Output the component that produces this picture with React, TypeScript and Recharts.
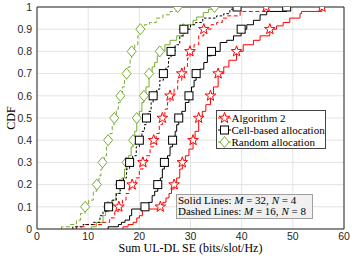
import React from 'react';
import {
  ComposedChart,
  Line,
  Scatter,
  XAxis,
  YAxis,
  CartesianGrid,
  ReferenceLine,
  Legend,
} from 'recharts';

type Pt = [number, number];

const xTicks = [0, 10, 20, 30, 40, 50, 60];
const yTicks = [0, 0.1, 0.2, 0.3, 0.4, 0.5, 0.6, 0.7, 0.8, 0.9, 1];
const markerLevels = [0.1, 0.2, 0.3, 0.4, 0.5, 0.6, 0.7, 0.8, 0.9, 1];

// Algorithm 2, solid (M = 32, N = 4)
const a2Solid: Pt[] = [
  [16.8, 0], [16.8, 0.01], [17.8, 0.02], [18.8, 0.03], [19.5, 0.05], [20.0, 0.06], [20.6, 0.09], [24.1, 0.1],
  [24.6, 0.12], [25.2, 0.14], [25.8, 0.16], [26.3, 0.18], [26.8, 0.2],
  [27.3, 0.23], [27.9, 0.27], [28.4, 0.3],
  [29.0, 0.33], [29.7, 0.36], [30.5, 0.4],
  [30.9, 0.44], [31.6, 0.5],
  [32.3, 0.53], [33.0, 0.56], [33.9, 0.6],
  [34.5, 0.64], [35.4, 0.7],
  [36.5, 0.73], [37.5, 0.76], [39.0, 0.8],
  [40.3, 0.83], [42.3, 0.85], [43.6, 0.87], [45.5, 0.9],
  [46.8, 0.915], [48.1, 0.93], [49.4, 0.95], [51.4, 0.97], [51.7, 0.98], [55.7, 1],
];
const a2SolidMarks = [24.1, 26.8, 28.4, 30.5, 31.6, 33.9, 35.4, 39.0, 45.5, 55.7];

// Cell-based allocation, solid
const cellSolid: Pt[] = [
  [13.9, 0], [13.9, 0.01], [15.9, 0.02], [16.5, 0.03], [17.2, 0.04], [18.1, 0.06], [18.5, 0.09], [21.1, 0.1],
  [21.8, 0.12], [22.5, 0.15], [23.0, 0.17], [23.6, 0.2],
  [24.1, 0.23], [24.5, 0.27], [24.9, 0.3],
  [25.5, 0.33], [26.0, 0.37], [26.5, 0.4],
  [27.0, 0.44], [27.3, 0.47], [27.7, 0.5],
  [28.3, 0.53], [29.0, 0.57], [29.7, 0.6],
  [30.2, 0.64], [30.7, 0.67], [31.1, 0.7],
  [31.8, 0.72], [32.6, 0.75], [33.3, 0.78], [34.1, 0.8],
  [35.8, 0.84], [37.1, 0.85], [38.4, 0.87], [39.9, 0.9],
  [41.0, 0.92], [42.3, 0.94], [43.6, 0.965], [44.9, 0.98], [48.8, 1],
];
const cellSolidMarks = [21.1, 23.6, 24.9, 26.5, 27.7, 29.7, 31.1, 34.1, 39.9, 48.8];

// Random allocation, solid
const randSolid: Pt[] = [
  [10.6, 0], [10.6, 0.01], [11.6, 0.03], [12.9, 0.06], [13.4, 0.08], [13.9, 0.1],
  [14.6, 0.13], [15.4, 0.16], [16.2, 0.2],
  [16.6, 0.23], [17.1, 0.27], [17.5, 0.3],
  [17.9, 0.33], [18.4, 0.37], [18.8, 0.4],
  [19.1, 0.44], [19.5, 0.5],
  [20.0, 0.53], [20.5, 0.57], [20.9, 0.6],
  [21.3, 0.64], [21.9, 0.7],
  [22.5, 0.73], [23.0, 0.75], [23.5, 0.78], [24.0, 0.8],
  [25.0, 0.83], [26.0, 0.85], [27.3, 0.87], [28.6, 0.9],
  [29.5, 0.92], [30.5, 0.94], [31.2, 0.955], [32.5, 0.975], [33.5, 0.99], [34.7, 1],
];
const randSolidMarks = [13.9, 16.2, 17.5, 18.8, 19.5, 20.9, 21.9, 24.0, 28.6, 34.7];

// Algorithm 2, dashed (M = 16, N = 8)
const a2Dashed: Pt[] = [
  [7.7, 0], [7.7, 0.01], [9.3, 0.02], [12.9, 0.03], [14.2, 0.05], [15.2, 0.08], [16.0, 0.1],
  [16.7, 0.13], [17.4, 0.16], [18.0, 0.18], [18.6, 0.2],
  [19.3, 0.23], [20.0, 0.27], [20.7, 0.3],
  [21.4, 0.33], [22.1, 0.37], [22.8, 0.4],
  [23.3, 0.43], [23.9, 0.47], [24.5, 0.5],
  [25.0, 0.54], [25.5, 0.57], [26.0, 0.6],
  [26.8, 0.63], [27.5, 0.67], [28.3, 0.7],
  [28.8, 0.73], [29.4, 0.77], [29.9, 0.8],
  [30.7, 0.83], [31.6, 0.87], [32.6, 0.9],
  [34.0, 0.92], [35.1, 0.93], [36.2, 0.95], [37.1, 0.96], [39.7, 0.98], [44.8, 1],
];
const a2DashedMarks = [16.0, 18.6, 20.7, 22.8, 24.5, 26.0, 28.3, 29.9, 32.6, 44.8];

// Cell-based allocation, dashed
const cellDashed: Pt[] = [
  [7.0, 0], [7.0, 0.01], [9.0, 0.02], [11.0, 0.03], [12.3, 0.06], [12.9, 0.08], [14.0, 0.1],
  [14.8, 0.13], [15.5, 0.16], [16.3, 0.2],
  [16.9, 0.23], [17.5, 0.27], [18.1, 0.3],
  [18.7, 0.33], [19.4, 0.37], [20.0, 0.4],
  [20.5, 0.44], [21.0, 0.47], [21.4, 0.5],
  [21.8, 0.53], [22.3, 0.57], [22.7, 0.6],
  [23.4, 0.63], [24.0, 0.67], [24.7, 0.7],
  [25.2, 0.73], [25.7, 0.77], [26.2, 0.8],
  [27.0, 0.83], [27.9, 0.87], [28.7, 0.9],
  [30.0, 0.92], [31.0, 0.93], [32.4, 0.95], [35.1, 0.96], [36.5, 0.97], [37.7, 0.99], [39.1, 1],
];
const cellDashedMarks = [14.0, 16.3, 18.1, 20.0, 21.4, 22.7, 24.7, 26.2, 28.7, 39.1];

// Random allocation, dashed
const randDashed: Pt[] = [
  [4.8, 0], [4.8, 0.01], [6.4, 0.02], [7.7, 0.04], [8.5, 0.07], [9.4, 0.1],
  [10.1, 0.13], [11.0, 0.17], [11.7, 0.2],
  [12.1, 0.24], [12.5, 0.27], [12.8, 0.3],
  [13.2, 0.33], [13.6, 0.37], [13.9, 0.4],
  [14.3, 0.43], [14.7, 0.47], [15.1, 0.5],
  [15.5, 0.54], [15.9, 0.57], [16.3, 0.6],
  [16.7, 0.64], [17.1, 0.67], [17.5, 0.7],
  [17.8, 0.73], [18.2, 0.77], [18.5, 0.8],
  [19.1, 0.83], [19.7, 0.87], [20.2, 0.9],
  [21.0, 0.92], [22.0, 0.93], [23.3, 0.95], [24.6, 0.965], [26.0, 0.98], [27.5, 1],
];
const randDashedMarks = [9.4, 11.7, 12.8, 13.9, 15.1, 16.3, 17.5, 18.5, 20.2, 27.5];

const legendLabels = ['Algorithm 2', 'Cell-based allocation', 'Random allocation'];

const RED = '#ff0000';
const BLACK = '#000000';
const GREEN = '#77ac30';
const AXIS = '#262626';
const SERIF = '"Liberation Serif", "Times New Roman", serif';
const SANS = '"Liberation Sans", Arial, Helvetica, sans-serif';

type ShapeKind = 'star' | 'square' | 'diamond';

function markerSvg(kind: ShapeKind, cx: number, cy: number, color: string) {
  if (kind === 'star') {
    const R = 5.6;
    const r = R * 0.4;
    const pts: string[] = [];
    for (let i = 0; i < 10; i++) {
      const a = -Math.PI / 2 + (i * Math.PI) / 5;
      const rad = i % 2 === 0 ? R : r;
      pts.push(`${cx + rad * Math.cos(a)},${cy + rad * Math.sin(a)}`);
    }
    return <polygon points={pts.join(' ')} fill="#ffffff" stroke={color} strokeWidth={1} />;
  }
  if (kind === 'square') {
    return <rect x={cx - 4} y={cy - 4} width={8} height={8} fill="#ffffff" stroke={color} strokeWidth={1} />;
  }
  return (
    <polygon
      points={`${cx},${cy - 5.5} ${cx + 4.5},${cy} ${cx},${cy + 5.5} ${cx - 4.5},${cy}`}
      fill="#ffffff"
      stroke={color}
      strokeWidth={1}
    />
  );
}

const toData = (pts: Pt[]) => pts.map(([x, y]) => ({ x, y }));
const toMarks = (xs: number[]) => xs.map((x, i) => ({ x, y: markerLevels[i] }));

const series = [
  { id: 'a2s', line: a2Solid, marks: a2SolidMarks, color: RED, dash: undefined, kind: 'star' as ShapeKind },
  { id: 'cs', line: cellSolid, marks: cellSolidMarks, color: BLACK, dash: undefined, kind: 'square' as ShapeKind },
  { id: 'rs', line: randSolid, marks: randSolidMarks, color: GREEN, dash: undefined, kind: 'diamond' as ShapeKind },
  { id: 'a2d', line: a2Dashed, marks: a2DashedMarks, color: RED, dash: '4 2.5', kind: 'star' as ShapeKind },
  { id: 'cd', line: cellDashed, marks: cellDashedMarks, color: BLACK, dash: '2.5 2', kind: 'square' as ShapeKind },
  { id: 'rd', line: randDashed, marks: randDashedMarks, color: GREEN, dash: '4 2.5', kind: 'diamond' as ShapeKind },
];

const legendKinds: { kind: ShapeKind; color: string }[] = [
  { kind: 'star', color: RED },
  { kind: 'square', color: BLACK },
  { kind: 'diamond', color: GREEN },
];

const LegendBox = () => (
  <div
    style={{
      width: 110,
      height: 39,
      boxSizing: 'border-box',
      border: '1px solid #444',
      background: '#ffffff',
      fontFamily: SERIF,
      fontSize: 11,
      color: '#000',
      paddingTop: 0.5,
    }}
  >
    {legendLabels.map((label, i) => (
      <div key={label} style={{ display: 'flex', alignItems: 'center', height: 12.3, whiteSpace: 'nowrap' }}>
        <svg width={15} height={12} style={{ flex: 'none' }}>
          <line x1={1} x2={14} y1={6} y2={6} stroke={legendKinds[i].color} strokeWidth={1} />
          {markerSvg(legendKinds[i].kind, 7.5, 6, legendKinds[i].color)}
        </svg>
        <span style={{ lineHeight: '12px' }}>{label}</span>
      </div>
    ))}
  </div>
);

export default function App() {
  return (
    <div style={{ position: 'absolute', left: 0, top: 0, width: 357, height: 259, background: '#ffffff' }}>
      <ComposedChart width={357} height={259} margin={{ top: 7, right: 13, bottom: 0, left: 0 }}>
        <CartesianGrid stroke="#e3e3e3" strokeWidth={1} />
        <XAxis
          dataKey="x"
          type="number"
          domain={[0, 60]}
          ticks={xTicks}
          interval={0}
          allowDataOverflow
          height={30}
          tickLine={false}
          tickSize={0}
          tickMargin={4}
          axisLine={{ stroke: AXIS }}
          tick={{ fontSize: 10.5, fill: AXIS, fontFamily: SANS }}
          label={{
            content: () => (
              <text x={190.5} y={248} textAnchor="middle" dominantBaseline="central" fontFamily={SERIF} fontSize={12} fill="#000">
                Sum UL-DL SE (bits/slot/Hz)
              </text>
            ),
          }}
        />
        <YAxis
          dataKey="y"
          type="number"
          domain={[0, 1]}
          ticks={yTicks}
          interval={0}
          allowDataOverflow
          width={37}
          tickLine={false}
          tickSize={0}
          tickMargin={5}
          axisLine={{ stroke: AXIS }}
          tick={{ fontSize: 10.5, fill: AXIS, fontFamily: SANS }}
          label={{
            content: () => (
              <text
                x={11}
                y={118}
                textAnchor="middle"
                dominantBaseline="central"
                transform="rotate(-90 11 118)"
                fontFamily={SERIF}
                fontSize={12}
                fill="#000"
              >
                CDF
              </text>
            ),
          }}
        />
        <ReferenceLine y={1} stroke={AXIS} strokeWidth={1} />
        <ReferenceLine x={60} stroke={AXIS} strokeWidth={1} />
        {series.map((s) => (
          <Line
            key={s.id + '-line'}
            data={toData(s.line)}
            dataKey="y"
            type="stepAfter"
            stroke={s.color}
            strokeWidth={1}
            strokeDasharray={s.dash}
            dot={false}
            activeDot={false}
            isAnimationActive={false}
            legendType="none"
          />
        ))}
        {series.map((s) => (
          <Scatter
            key={s.id + '-marks'}
            data={toMarks(s.marks)}
            dataKey="y"
            isAnimationActive={false}
            legendType="none"
            shape={(p: any) => markerSvg(s.kind, p.cx, p.cy, s.color)}
          />
        ))}
        <Legend
          layout="vertical"
          align="center"
          verticalAlign="middle"
          wrapperStyle={{ position: 'absolute', left: 215.5, top: 110, width: 110, height: 39 }}
          content={() => <LegendBox />}
        />
      </ComposedChart>
      <div
        style={{
          position: 'absolute',
          left: 175.5,
          top: 193.5,
          width: 137,
          height: 25.5,
          boxSizing: 'border-box',
          border: '1px solid #a0a0a0',
          background: '#f0f0f0',
          fontFamily: SERIF,
          fontSize: 11,
          lineHeight: '11.3px',
          paddingLeft: 1.5,
          paddingTop: 0.5,
          color: '#000',
          whiteSpace: 'nowrap',
        }}
      >
        <div>
          Solid Lines: <i>M</i> = 32, <i>N</i> = 4
        </div>
        <div>
          Dashed Lines: <i>M</i> = 16, <i>N</i> = 8
        </div>
      </div>
    </div>
  );
}
